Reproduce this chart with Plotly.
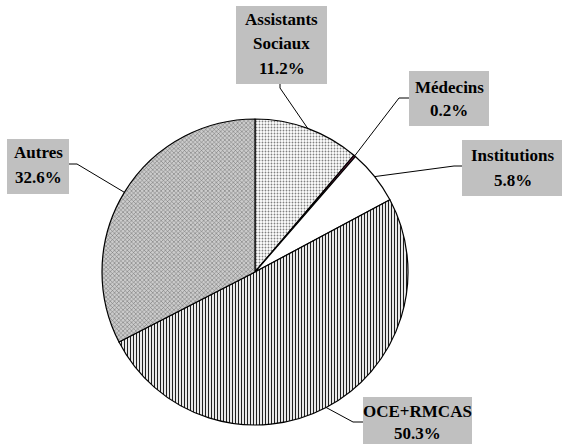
import math
import plotly.graph_objects as go

labels = ["Assistants Sociaux", "Médecins", "Institutions", "OCE+RMCAS", "Autres"]
values = [11.2, 0.2, 5.8, 50.3, 32.6]
label_lines = [["Assistants", "Sociaux"], ["Médecins"], ["Institutions"], ["OCE+RMCAS"], ["Autres"]]

W, H = 562, 444
CX, CY, R = 255, 272, 153

def px(x):
    return x / W

def py(y):
    return 1 - y / H

fig = go.Figure()
fig.add_trace(go.Pie(
    labels=labels,
    values=values,
    sort=False,
    direction="clockwise",
    rotation=0,
    textinfo="none",
    hoverinfo="label+percent",
    showlegend=False,
    domain=dict(x=[px(CX - R), px(CX + R)], y=[py(CY + R), py(CY - R)]),
    marker=dict(
        colors=["#ffffff", "#8b2252", "#ffffff", "#ffffff", "#ffffff"],
        line=dict(color="#000000", width=1.2),
        pattern=dict(
            shape=[".", "", "", "|", "x"],
            fgcolor=["#808080", "#8b2252", "#ffffff", "#202020", "#686868"],
            bgcolor=["#ffffff", "#8b2252", "#ffffff", "#ffffff", "#cccccc"],
            size=[3, 3, 3, 3, 3],
            solidity=[0.3, 0.3, 0.3, 0.4, 0.3],
            fillmode="replace",
        ),
    ),
))

# label boxes (pixels): x0, y0, x1, y1 and line centre y positions
boxes = [
    (236, 6, 327, 84, [20, 44, 68]),
    (409, 71, 489, 126, [87, 110]),
    (462, 140, 563, 196, [155, 180]),
    (363, 397, 472, 446, [411, 433]),
    (7, 139, 69, 194, [153, 177]),
]
# leader bend points (pixels)
bends = [
    [(280, 88), (280, 84)],
    [(399, 98), (409, 98)],
    [(454, 166), (462, 166)],
    [(353, 422), (363, 422)],
    [(77, 164), (69, 164)],
]

total = sum(values)
cum = 0.0
shapes = []
annotations = []
for i, v in enumerate(values):
    mid = (cum + v / 2) / total * 2 * math.pi
    cum += v
    ex = CX + R * math.sin(mid)
    ey = CY - R * math.cos(mid)
    pts = [(ex, ey)] + bends[i]
    path = "M " + " L ".join(f"{px(x)},{py(y)}" for x, y in pts)
    shapes.append(dict(type="path", path=path, xref="paper", yref="paper",
                       line=dict(color="#000000", width=1)))
    x0, y0, x1, y1, ys = boxes[i]
    shapes.append(dict(type="rect", xref="paper", yref="paper",
                       x0=px(x0), x1=px(x1), y0=py(y1), y1=py(y0),
                       fillcolor="#c0c0c0", line=dict(width=0)))
    lines = label_lines[i] + [f"{v:.1f}%"]
    for t, yy in zip(lines, ys):
        annotations.append(dict(
            text=f"<b>{t}</b>", x=px((x0 + x1) / 2), y=py(yy),
            xref="paper", yref="paper", xanchor="center", yanchor="middle",
            showarrow=False,
            font=dict(family="Times New Roman, Liberation Serif, serif",
                      size=17, color="#000000"),
        ))

fig.update_layout(
    width=W, height=H,
    margin=dict(l=0, r=0, t=0, b=0),
    paper_bgcolor="#ffffff",
    plot_bgcolor="#ffffff",
    font=dict(family="Times New Roman, Liberation Serif, serif"),
    shapes=shapes,
    annotations=annotations,
)

fig.write_html("out.html")
